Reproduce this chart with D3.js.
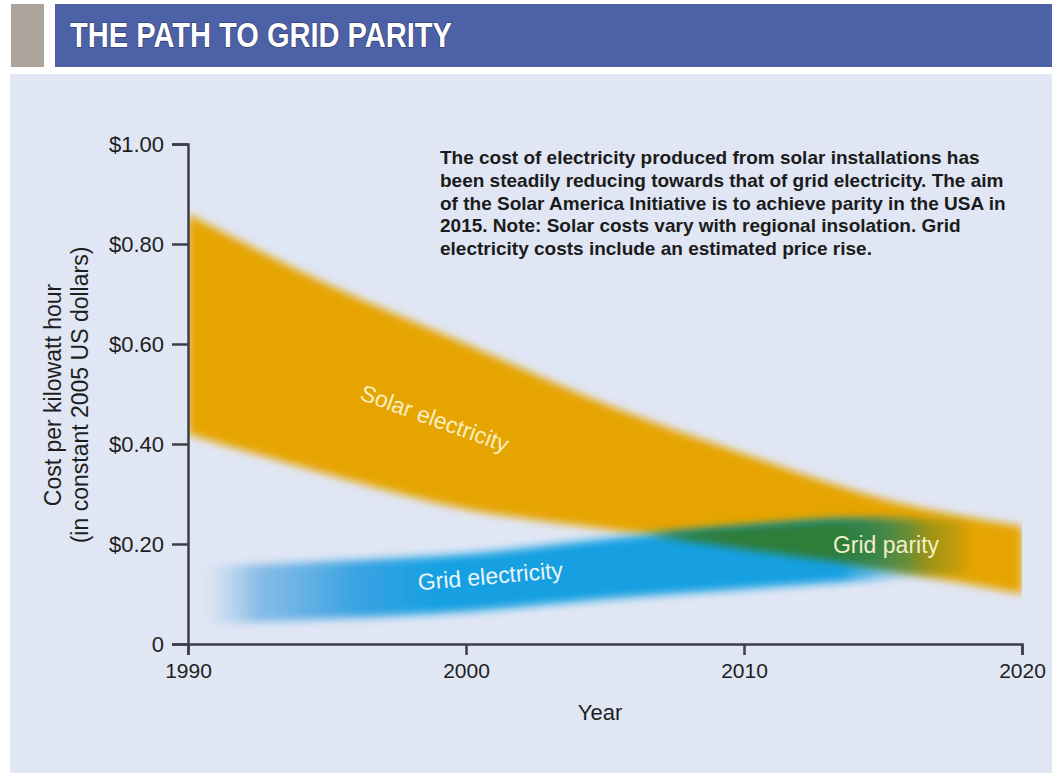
<!DOCTYPE html>
<html>
<head>
<meta charset="utf-8">
<script src="https://cdn.jsdelivr.net/npm/d3@7"></script>
<style>
  body { margin: 0; background: #fff; }
  svg { display: block; font-family: "Liberation Sans", Arial, sans-serif; }
</style>
</head>
<body>
<svg width="1052" height="773"></svg>
<script>
// data
var years = [1990, 1995, 2000, 2005, 2010, 2015, 2020];
var solarHigh = [0.86, 0.72, 0.60, 0.48, 0.38, 0.29, 0.235];
var solarLow = [0.42, 0.34, 0.27, 0.23, 0.19, 0.15, 0.10];

var gridYears = [1990.6, 1995, 2000, 2005, 2010, 2015, 2018];
var gridHigh = [0.155, 0.165, 0.18, 0.21, 0.235, 0.25, 0.245];
var gridLow = [0.04, 0.05, 0.065, 0.09, 0.11, 0.13, 0.14];

var yTicks = [0, 0.2, 0.4, 0.6, 0.8, 1.0];
var xTicks = [1990, 2000, 2010, 2020];

var note = [
  "The cost of electricity produced from solar installations has",
  "been steadily reducing towards that of grid electricity. The aim",
  "of the Solar America Initiative is to achieve parity in the USA in",
  "2015. Note: Solar costs vary with regional insolation. Grid",
  "electricity costs include an estimated price rise."
];

var svg = d3.select("svg");
var defs = svg.append("defs");

// header + panel
svg.append("rect").attr("x", 11).attr("y", 4).attr("width", 33).attr("height", 63).attr("fill", "#aca49b");
svg.append("rect").attr("x", 55).attr("y", 4).attr("width", 997).attr("height", 63).attr("fill", "#4c61a6");
svg.append("text")
  .attr("x", 70).attr("y", 47)
  .attr("fill", "#fff")
  .attr("font-weight", "bold")
  .attr("font-size", 35)
  .attr("textLength", 382)
  .attr("lengthAdjust", "spacingAndGlyphs")
  .style("paint-order", "stroke")
  .attr("stroke", "#2a3566").attr("stroke-width", 1.2)
  .text("THE PATH TO GRID PARITY");
svg.append("rect").attr("x", 10).attr("y", 74).attr("width", 1042).attr("height", 699).attr("fill", "#e0e6f4");

var x = d3.scaleLinear().domain([1990, 2020]).range([188, 1022]);
var y = d3.scaleLinear().domain([0, 1]).range([644, 144]);

// filters / clips / gradients
defs.append("filter").attr("id", "soft")
  .attr("x", "-5%").attr("y", "-20%").attr("width", "110%").attr("height", "140%")
  .append("feGaussianBlur").attr("stdDeviation", 4.5);

defs.append("clipPath").attr("id", "plotclip")
  .append("rect").attr("x", x(1990)).attr("y", 100).attr("width", x(2020) - x(1990)).attr("height", 544);

var solarArea = d3.area()
  .x(function(d, i) { return x(years[i]); })
  .y0(function(d, i) { return y(solarLow[i]); })
  .y1(function(d) { return y(d); })
  .curve(d3.curveMonotoneX);

var gridArea = d3.area()
  .x(function(d, i) { return x(gridYears[i]); })
  .y0(function(d, i) { return y(gridLow[i]); })
  .y1(function(d) { return y(d); })
  .curve(d3.curveMonotoneX);

defs.append("clipPath").attr("id", "solarclip")
  .append("path").attr("d", solarArea(solarHigh));

function hgrad(id, stops) {
  var g = defs.append("linearGradient").attr("id", id)
    .attr("gradientUnits", "userSpaceOnUse")
    .attr("x1", x(1990)).attr("x2", x(2020)).attr("y1", 0).attr("y2", 0);
  stops.forEach(function(s) {
    g.append("stop")
      .attr("offset", (s[0] - 1990) / 30)
      .attr("stop-color", s[1])
      .attr("stop-opacity", s[2]);
  });
}
hgrad("gridgrad", [
  [1990.6, "#8fc0e8", 0],
  [1992.5, "#6aaee2", 0.75],
  [1996, "#3aa3e2", 1],
  [1999, "#16a0e2", 1],
  [2013.5, "#16a0e2", 1],
  [2016.5, "#16a0e2", 0]
]);
hgrad("greengrad", [
  [2004, "#2f7d38", 0],
  [2007.5, "#2f7d38", 1],
  [2013.5, "#2f7d38", 1],
  [2016, "#2f7d38", 0.55],
  [2018.5, "#2f7d38", 0]
]);

// bands
var bands = svg.append("g").attr("clip-path", "url(#plotclip)");
bands.append("g").attr("filter", "url(#soft)")
  .append("path")
  .attr("d", solarArea(solarHigh))
  .attr("fill", "#e6a400");

bands.append("g").attr("filter", "url(#soft)")
  .append("path")
  .attr("d", gridArea(gridHigh))
  .attr("fill", "url(#gridgrad)");

bands.append("g").attr("filter", "url(#soft)")
  .append("g").attr("clip-path", "url(#solarclip)")
  .append("path")
  .attr("d", gridArea(gridHigh))
  .attr("fill", "url(#greengrad)");

// band labels
svg.append("text")
  .attr("transform", "translate(432,426) rotate(20)")
  .attr("text-anchor", "middle")
  .attr("font-size", 23).attr("fill", "#f7efc2")
  .text("Solar electricity");
svg.append("text")
  .attr("transform", "translate(491,584) rotate(-5)")
  .attr("text-anchor", "middle")
  .attr("font-size", 23).attr("fill", "#eaf4f8")
  .text("Grid electricity");
svg.append("text")
  .attr("x", 886).attr("y", 553)
  .attr("text-anchor", "middle")
  .attr("font-size", 23).attr("fill", "#f4efc6")
  .text("Grid parity");

// axes
var yAxis = svg.append("g")
  .attr("transform", "translate(" + x(1990) + ",0)")
  .call(d3.axisLeft(y).tickValues(yTicks).tickSize(16).tickPadding(8)
    .tickFormat(function(d) { return d === 0 ? "0" : "$" + d.toFixed(2); }));
var xAxis = svg.append("g")
  .attr("transform", "translate(0," + y(0) + ")")
  .call(d3.axisBottom(x).tickValues(xTicks).tickSize(11).tickPadding(8).tickFormat(d3.format("d")));

[yAxis, xAxis].forEach(function(a) {
  a.select(".domain").attr("stroke", "#3b3f47").attr("stroke-width", 2.5);
  a.selectAll(".tick line").attr("stroke", "#3b3f47").attr("stroke-width", 2.5);
  a.selectAll(".tick text").attr("fill", "#1e1e1e")
    .attr("font-family", "'Liberation Sans', Arial, sans-serif");
});
yAxis.selectAll(".tick text").attr("font-size", 22);
xAxis.selectAll(".tick text").attr("font-size", 21);

svg.append("text")
  .attr("x", 600).attr("y", 720)
  .attr("text-anchor", "middle")
  .attr("font-size", 22).attr("fill", "#1e1e1e")
  .text("Year");

var yl = svg.append("text")
  .attr("transform", "translate(61,395) rotate(-90)")
  .attr("text-anchor", "middle")
  .attr("font-size", 23).attr("fill", "#1e1e1e");
yl.append("tspan").attr("x", 0).attr("dy", 0).text("Cost per kilowatt hour");
yl.append("tspan").attr("x", 0).attr("dy", 27).text("(in constant 2005 US dollars)");

// note text
svg.append("g").selectAll("text")
  .data(note)
  .join("text")
  .attr("x", 440)
  .attr("y", function(d, i) { return 164 + i * 22.8; })
  .attr("font-size", 19)
  .attr("font-weight", "bold")
  .attr("fill", "#1b1b1b")
  .text(function(d) { return d; });
</script>
</body>
</html>
